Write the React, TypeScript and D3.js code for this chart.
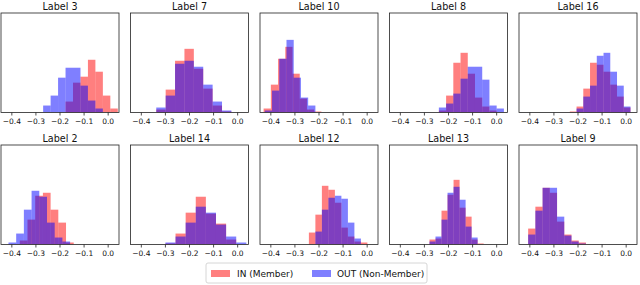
import React from 'react';
import * as d3 from 'd3';

// one entry per panel, row by row
const labels = ['Label 3', 'Label 7', 'Label 10', 'Label 8', 'Label 16',
                'Label 2', 'Label 14', 'Label 12', 'Label 13', 'Label 9'];

// IN (Member) histograms: first bin edge, bin width, bar heights (% of axis height)
const inStarts = [-0.177, -0.338, -0.430, -0.240, -0.234, -0.367, -0.300, -0.242, -0.279, -0.407];
const inWidths = [0.031, 0.039, 0.030, 0.030, 0.028, 0.032, 0.042, 0.027, 0.025, 0.030];
const inCounts = [
  [11, 30, 36, 53, 41, 17, 4],
  [3, 23, 52, 64, 44, 24, 7, 1],
  [4, 28, 54, 66, 39, 14, 3, 1],
  [2, 17, 50, 60, 39, 15, 6, 2, 0],
  [1, 6, 24, 50, 48, 41, 28, 16, 5],
  [4, 25, 49, 52, 35, 22, 2],
  [1, 11, 32, 48, 31, 21, 5, 0],
  [12, 30, 59, 55, 42, 17, 8, 3, 2],
  [5, 6, 34, 50, 65, 37, 28, 5, 1],
  [16, 38, 57, 52, 23, 10, 4, 2],
];

// OUT (Non-Member) histograms
const outStarts = [-0.270, -0.338, -0.425, -0.240, -0.234, -0.414, -0.300, -0.242, -0.279, -0.407];
const outWidths = [0.031, 0.039, 0.030, 0.030, 0.028, 0.032, 0.042, 0.027, 0.025, 0.030];
const outCounts = [
  [7, 17, 35, 45, 45, 27, 12, 4],
  [5, 17, 49, 52, 46, 28, 11, 2],
  [2, 22, 54, 73, 35, 15, 7, 0],
  [5, 9, 19, 34, 46, 46, 33, 7, 4],
  [0, 4, 16, 27, 57, 60, 41, 27, 6],
  [2, 11, 35, 54, 48, 22, 7, 3],
  [2, 8, 22, 38, 32, 20, 8, 2],
  [0, 13, 35, 47, 49, 46, 22, 6, 0],
  [3, 8, 25, 52, 58, 45, 18, 7, 0],
  [10, 34, 57, 57, 28, 9, 3, 1],
];

const xTicks = [-0.4, -0.3, -0.2, -0.1, 0.0];
const seriesNames = ['IN (Member)', 'OUT (Non-Member)'];
const seriesColors = ['#ff0000', '#0000ff'];

const FONT = 'DejaVu Sans, sans-serif';
const panelW = 118;
const panelH = 99.5;
const colLeft = (c: number) => 1 + c * 129.5;
const rowTop = [13, 145];

const x = d3.scaleLinear().domain([-0.445, 0.045]).range([0, panelW]);
const y = d3.scaleLinear().domain([0, 100]).range([panelH, 0]);
const fmt = (v: number) => d3.format('.1f')(v).replace('-', '\u2212');

const Bars = ({ start, width, counts, color }: any) => (
  <g>
    {counts.map((c: number, k: number) => {
      if (!c) return null;
      const x0 = x(start + k * width);
      const x1 = x(start + (k + 1) * width);
      return (
        <rect key={k} x={x0} y={y(c)} width={x1 - x0} height={panelH - y(c)}
              fill={color} fillOpacity={0.5} />
      );
    })}
  </g>
);

const Panel = ({ i }: { i: number }) => {
  const row = Math.floor(i / 5);
  const col = i % 5;
  return (
    <g transform={`translate(${colLeft(col)},${rowTop[row]})`}>
      <defs>
        <clipPath id={`clip${i}`}><rect width={panelW} height={panelH} /></clipPath>
      </defs>
      <g clipPath={`url(#clip${i})`}>
        <Bars start={inStarts[i]} width={inWidths[i]} counts={inCounts[i]} color={seriesColors[0]} />
        <Bars start={outStarts[i]} width={outWidths[i]} counts={outCounts[i]} color={seriesColors[1]} />
      </g>
      <rect width={panelW} height={panelH} fill="none" stroke="#222" strokeWidth={0.8} />
      {xTicks.map(t => (
        <g key={t} transform={`translate(${x(t)},${panelH})`}>
          <line y2={3} stroke="#222" strokeWidth={0.8} />
          <text y={11.5} textAnchor="middle" fontSize={7.5} fontFamily={FONT} fill="#111">{fmt(t)}</text>
        </g>
      ))}
      <text x={panelW / 2} y={-3.5} textAnchor="middle" fontSize={9.6} fontFamily={FONT} fill="#111">
        {labels[i]}
      </text>
    </g>
  );
};

export default function App() {
  return (
    <svg width={640} height={285} style={{ position: 'absolute', left: 0, top: 0, background: '#fff' }}>
      {labels.map((_, i) => <Panel key={i} i={i} />)}
      <g transform="translate(206,263)">
        <rect width={221} height={20} rx={2} fill="#fff" stroke="#ccc" strokeWidth={0.8} />
        <rect x={5} y={7} width={19} height={7} fill={seriesColors[0]} fillOpacity={0.5} />
        <text x={31} y={13.5} fontSize={9} fontFamily={FONT} fill="#111">{seriesNames[0]}</text>
        <rect x={106} y={7} width={19} height={7} fill={seriesColors[1]} fillOpacity={0.5} />
        <text x={131} y={13.5} fontSize={9} fontFamily={FONT} fill="#111">{seriesNames[1]}</text>
      </g>
    </svg>
  );
}
